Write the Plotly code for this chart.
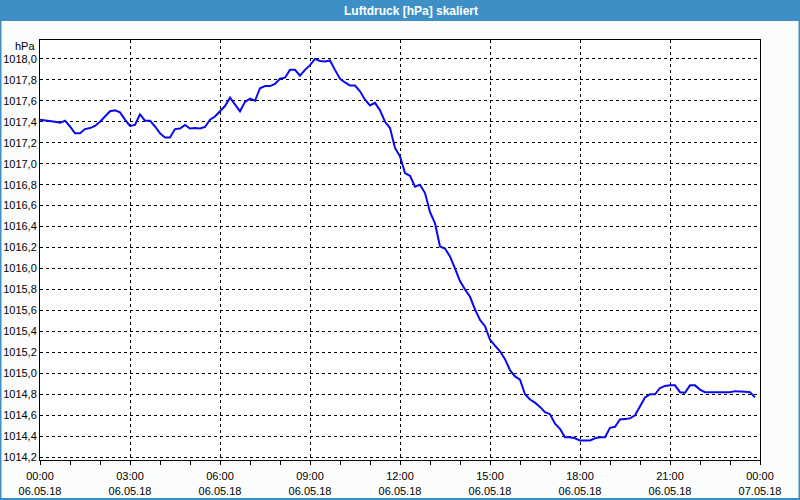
import pandas as pd
import plotly.graph_objects as go

# --- data: air pressure (hPa), every 10 minutes, 06.05.18 00:00 .. 23:50 ---
start_time = "2018-05-06 00:00"
end_time = "2018-05-07 00:00"
pressure = [
    1017.42, 1017.415, 1017.41, 1017.40, 1017.39, 1017.41, 1017.355, 1017.29, 1017.29, 1017.33,
    1017.34, 1017.36, 1017.40, 1017.45, 1017.50, 1017.51, 1017.49, 1017.42, 1017.36, 1017.37,
    1017.47, 1017.41, 1017.41, 1017.355, 1017.29, 1017.25, 1017.25, 1017.33, 1017.335, 1017.37,
    1017.335, 1017.34, 1017.335, 1017.35, 1017.42, 1017.45, 1017.50, 1017.55, 1017.63, 1017.57,
    1017.50, 1017.59, 1017.62, 1017.60, 1017.72, 1017.74, 1017.74, 1017.76, 1017.81, 1017.82,
    1017.895, 1017.895, 1017.84, 1017.895, 1017.94, 1018.00, 1017.98, 1017.975, 1017.985, 1017.895,
    1017.81, 1017.775, 1017.745, 1017.745, 1017.69, 1017.61, 1017.555, 1017.58, 1017.51, 1017.40,
    1017.34, 1017.15, 1017.07, 1016.91, 1016.885, 1016.78, 1016.80, 1016.72, 1016.54, 1016.43,
    1016.21, 1016.19, 1016.115, 1016.00, 1015.88, 1015.80, 1015.73, 1015.61, 1015.51, 1015.45,
    1015.32, 1015.265, 1015.21, 1015.135, 1015.03, 1014.97, 1014.94, 1014.80, 1014.75, 1014.72,
    1014.68, 1014.63, 1014.61, 1014.52, 1014.47, 1014.39, 1014.39, 1014.38, 1014.36, 1014.36,
    1014.36, 1014.38, 1014.39, 1014.39, 1014.48, 1014.49, 1014.56, 1014.565, 1014.57, 1014.60,
    1014.69, 1014.77, 1014.80, 1014.80, 1014.86, 1014.88, 1014.885, 1014.885, 1014.82, 1014.815,
    1014.885, 1014.885, 1014.845, 1014.82, 1014.82, 1014.82, 1014.82, 1014.82, 1014.82, 1014.83,
    1014.83, 1014.825, 1014.82, 1014.77,
]
times = pd.date_range(start_time, periods=len(pressure), freq="10min")
y_ticks = [1014.2, 1014.4, 1014.6, 1014.8, 1015.0, 1015.2, 1015.4, 1015.6, 1015.8, 1016.0,
           1016.2, 1016.4, 1016.6, 1016.8, 1017.0, 1017.2, 1017.4, 1017.6, 1017.8, 1018.0]
title_text = "Luftdruck [hPa] skaliert"
unit_text = "hPa"

W, H = 800, 500
L, R, T, B = 40, 40, 40, 40
PW, PH = W - L - R, H - T - B

def px_x(px):
    return (px - L) / PW

def px_y(py):
    return 1 - (py - T) / PH

FONT = "Liberation Sans, Arial, sans-serif"
BLUE_BAR = "#3d8fc6"

fig = go.Figure()
fig.add_trace(go.Scatter(
    x=times, y=pressure, mode="lines",
    line=dict(color="#0a0aee", width=2),
    hoverinfo="skip", showlegend=False,
))

fig.update_layout(
    width=W, height=H,
    margin=dict(l=L, r=R, t=T, b=B, pad=0, autoexpand=False),
    paper_bgcolor="#fbfdfd",
    plot_bgcolor="#ffffff",
    separators=",.",
    font=dict(family=FONT, size=11, color="#000000"),
    showlegend=False,
    xaxis=dict(
        range=[start_time, end_time],
        type="date", automargin=False,
        tick0=start_time, dtick=3 * 3600000,
        tickformat="%H:%M<br>%d.%m.%y",
        ticks="outside", ticklen=4, tickcolor="#000000", tickwidth=1,
        ticklabelstandoff=2,
        minor=dict(dtick=3600000, ticks="outside", ticklen=4, tickcolor="#000000", showgrid=False),
        showgrid=True, gridcolor="#000000", gridwidth=1, griddash="3px,3px",
        showline=True, linecolor="#000000", linewidth=1, mirror=True,
        zeroline=False, fixedrange=True,
    ),
    yaxis=dict(
        range=[1014.173, 1018.18], automargin=False,
        tickmode="array", tickvals=y_ticks, tickformat=".1f",
        ticks="",
        showgrid=True, gridcolor="#000000", gridwidth=1, griddash="3px,3px",
        showline=True, linecolor="#000000", linewidth=1, mirror=True,
        zeroline=False, fixedrange=True,
    ),
    shapes=[
        dict(type="rect", xref="paper", yref="paper",
             x0=px_x(0), x1=px_x(800), y0=px_y(21), y1=px_y(0),
             fillcolor=BLUE_BAR, line=dict(width=0), layer="above"),
        dict(type="rect", xref="paper", yref="paper",
             x0=px_x(0.5), x1=px_x(799.5), y0=px_y(499), y1=px_y(0),
             fillcolor="rgba(0,0,0,0)", line=dict(color=BLUE_BAR, width=2), layer="above"),
    ],
    annotations=[
        dict(text="<b>" + title_text + "</b>", xref="paper", yref="paper",
             x=px_x(411), y=px_y(10.5), xanchor="center", yanchor="middle",
             showarrow=False, font=dict(family=FONT, size=12, color="#ffffff")),
        dict(text=unit_text, xref="paper", yref="paper",
             x=px_x(37), y=px_y(46), xanchor="right", yanchor="middle",
             showarrow=False, font=dict(family=FONT, size=11, color="#000000")),
    ],
)

fig.write_html("out.html")
